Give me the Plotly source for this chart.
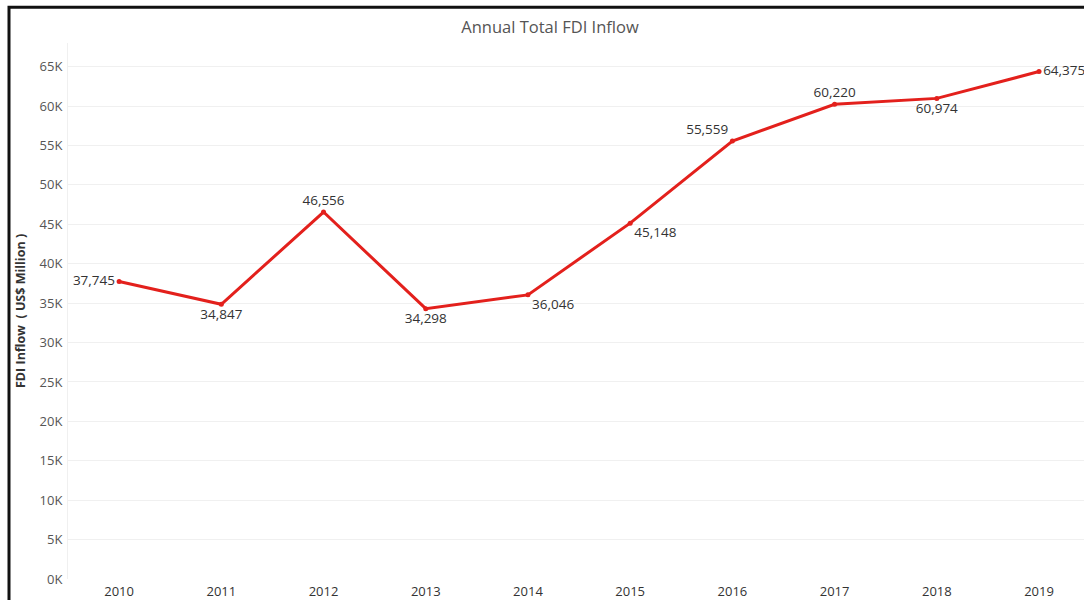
import plotly.graph_objects as go

years = [2010, 2011, 2012, 2013, 2014, 2015, 2016, 2017, 2018, 2019]
fdi = [37745, 34847, 46556, 34298, 36046, 45148, 55559, 60220, 60974, 64375]
labels = ["37,745", "34,847", "46,556", "34,298", "36,046", "45,148", "55,559", "60,220", "60,974", "64,375"]
label_pos = ["middle left", "bottom center", "top center", "bottom center", "bottom right",
             "bottom right", "top left", "top center", "bottom center", "middle right"]
yticks = [0, 5000, 10000, 15000, 20000, 25000, 30000, 35000, 40000, 45000, 50000, 55000, 60000, 65000]
ytick_text = ["0K", "5K", "10K", "15K", "20K", "25K", "30K", "35K", "40K", "45K", "50K", "55K", "60K", "65K"]

W, H = 1084, 600
L, R, T, B = 68, 0, 43, 17

fig = go.Figure()
fig.add_trace(go.Scatter(
    x=years, y=fdi, mode="lines+markers+text",
    line=dict(color="#e3201c", width=3),
    marker=dict(color="#e3201c", size=5),
    text=labels, textposition=label_pos,
    textfont=dict(family="Open Sans, Noto Sans, sans-serif", size=13.5, color="#333333"),
    cliponaxis=False, hoverinfo="x+y", showlegend=False,
))

fig.update_layout(
    width=W, height=H,
    margin=dict(l=L, r=R, t=T, b=B),
    paper_bgcolor="white", plot_bgcolor="white",
    font=dict(family="Open Sans, Noto Sans, sans-serif", color="#555555"),
    title=dict(text="Annual Total FDI Inflow", x=550 / W, xanchor="center",
               y=1 - 27 / H, yanchor="middle",
               font=dict(size=16.5, color="#555555")),
    xaxis=dict(range=[2009.50, 2019.44], tickmode="array", tickvals=years,
               ticktext=[str(y) for y in years], showgrid=False, zeroline=False,
               showline=False, ticks="", ticklabelstandoff=3,
               tickfont=dict(size=13, color="#333333")),
    yaxis=dict(range=[0, 68000], tickmode="array", tickvals=yticks, ticktext=ytick_text,
               showgrid=True, gridcolor="#f0f0f0", gridwidth=1, zeroline=False,
               showline=True, linecolor="#f0f0f0", linewidth=1,
               ticks="", ticklabelstandoff=2, tickfont=dict(size=13, color="#555555")),
    annotations=[dict(text="<b>FDI Inflow  ( US$ Million )</b>", textangle=-90,
                      xref="paper", yref="paper", x=(20 - L) / (W - L - R), y=0.5,
                      xanchor="center", yanchor="middle", showarrow=False,
                      font=dict(size=12.5, color="#333333"))],
    shapes=[dict(type="rect", xref="paper", yref="paper",
                 x0=(9 - L) / (W - L - R), x1=1.05,
                 y0=-0.1, y1=1 + (T - 7) / (H - T - B),
                 line=dict(color="#111111", width=3), fillcolor="rgba(0,0,0,0)")],
)

fig.write_html("out.html")
